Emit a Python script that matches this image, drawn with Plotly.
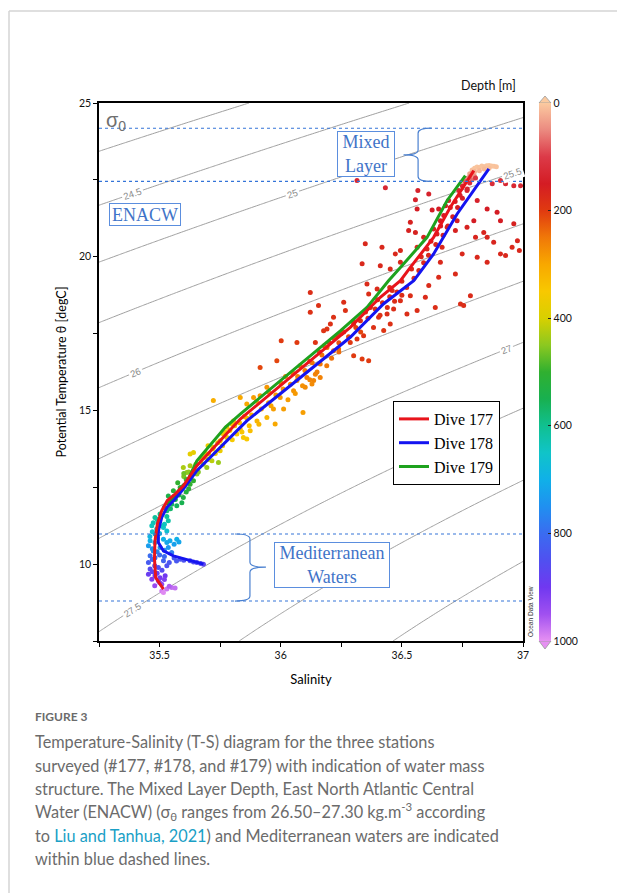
import numpy as np
import plotly.graph_objects as go

# ---------------- data ----------------
dive177_sal = [35.516, 35.484, 35.479, 35.481, 35.491, 35.509, 35.532, 35.564, 35.598, 35.654,
               35.833, 36.081, 36.287, 36.411, 36.494, 36.535, 36.631, 36.700, 36.769, 36.797]
dive177_temp = [9.19, 9.56, 10.17, 10.76, 11.31, 11.74, 12.07, 12.28, 12.55, 13.20,
                14.72, 16.36, 17.70, 18.68, 19.22, 19.65, 20.63, 21.61, 22.48, 22.80]

dive178_sal = [35.681, 35.612, 35.557, 35.516, 35.495, 35.495, 35.509, 35.530, 35.564, 35.598,
               35.654, 35.860, 36.081, 36.287, 36.425, 36.549, 36.590, 36.631, 36.728, 36.824, 36.859]
dive178_temp = [10.00, 10.16, 10.27, 10.43, 10.70, 11.08, 11.52, 11.84, 12.12, 12.44,
                13.04, 14.66, 16.07, 17.38, 18.47, 19.22, 19.65, 20.09, 21.39, 22.48, 22.86]

dive179_sal = [35.530, 35.550, 35.585, 35.612, 35.654, 35.771, 35.833, 36.081, 36.246, 36.356,
               36.445, 36.494, 36.604, 36.687, 36.762]
dive179_temp = [11.90, 12.12, 12.45, 12.66, 13.36, 14.45, 14.88, 16.52, 17.59, 18.35,
                19.22, 19.65, 20.63, 21.83, 22.64]

# CTD samples coloured by depth
surface_sal = [36.79, 36.80, 36.81, 36.82, 36.83, 36.84, 36.85, 36.86, 36.87, 36.88, 36.89,
               36.80, 36.82, 36.84, 36.86, 36.78, 36.78, 36.79, 36.77, 36.80, 36.76, 36.79]
surface_temp = [22.82, 22.88, 22.92, 22.90, 22.95, 22.93, 22.96, 22.97, 22.95, 22.94, 22.93,
                22.76, 22.80, 22.85, 22.88, 22.70, 22.60, 22.50, 22.55, 22.62, 22.45, 22.72]
surface_depth = [10, 5, 5, 8, 5, 6, 5, 4, 5, 5, 6,
                 20, 15, 12, 10, 30, 60, 70, 50, 45, 80, 40]

upper_sal = [36.315, 36.432, 36.566, 36.556, 36.611, 36.563, 36.625, 36.652, 36.680, 36.693,
             36.735, 36.769, 36.804, 36.873, 36.907, 36.928, 36.962, 36.990, 36.673, 36.659,
             36.728, 36.687, 36.721, 36.769, 36.797, 36.811, 36.852, 36.893, 36.907, 36.962,
             36.535, 36.528, 36.556, 36.590, 36.631, 36.645, 36.666, 36.563, 36.604, 36.494,
             36.473, 36.418, 36.349, 36.336, 36.411, 36.494, 36.659, 36.749, 36.811, 36.852,
             36.907, 36.955, 36.721, 36.652, 36.452, 36.852, 36.879, 36.838, 36.804, 36.928,
             36.700, 36.660, 36.620, 36.580, 36.540, 36.500, 36.460, 36.740, 36.750, 36.720,
             36.977, 36.985,
             36.122, 36.143, 36.177, 36.191, 36.205, 36.218, 36.232, 36.260, 36.267, 36.287,
             36.301, 36.315, 36.329, 36.342, 36.356, 36.363, 36.370, 36.383, 36.398, 36.404,
             36.425, 36.439, 36.452, 36.466, 36.494, 36.521, 36.535, 36.563, 36.597, 36.611,
             36.638, 36.742, 36.755, 36.783, 36.336, 36.363, 36.301, 36.122, 36.156, 36.002,
             36.067, 35.984, 35.915, 36.200, 36.250, 36.300, 36.350, 36.400, 36.450, 36.160,
             36.120,
             36.36, 36.39, 36.42, 36.45, 36.48, 36.41, 36.44, 36.47, 36.50, 36.52,
             36.55, 36.57, 36.59, 36.61, 36.64, 36.67, 36.69, 36.71, 36.73, 36.75,
             36.77, 36.78,
             36.18, 36.22, 36.26, 36.28, 36.31, 36.24, 36.33]
upper_temp = [22.48, 22.24, 22.15, 21.85, 22.04, 21.55, 21.52, 21.55, 21.66, 21.83,
              22.15, 22.15, 22.56, 22.37, 22.48, 22.37, 22.31, 22.31, 21.34, 21.17,
              21.17, 20.96, 20.85, 20.96, 21.17, 21.83, 21.55, 21.45, 21.17, 21.07,
              21.12, 20.85, 20.79, 20.63, 20.90, 20.74, 20.31, 20.31, 20.25, 20.20,
              20.09, 20.31, 20.42, 19.77, 19.71, 19.82, 19.82, 20.09, 19.98, 19.82,
              20.09, 20.31, 19.44, 19.33, 19.60, 20.63, 20.47, 20.79, 20.63, 20.04,
              21.60, 21.00, 20.50, 20.00, 19.60, 19.20, 18.90, 22.00, 22.30, 21.80,
              20.52, 20.20,
              18.19, 17.21, 17.59, 17.65, 17.81, 18.03, 17.43, 18.52, 18.25, 17.21,
              17.81, 17.32, 17.92, 17.43, 19.11, 18.79, 18.35, 17.70, 18.95, 18.03,
              17.60, 18.14, 17.81, 18.30, 18.57, 18.14, 18.73, 18.25, 18.68, 19.06,
              18.35, 18.46, 18.41, 18.73, 16.67, 16.62, 16.78, 18.84, 18.41, 17.27,
              17.21, 16.62, 16.40, 17.20, 17.50, 17.90, 18.20, 18.60, 19.00, 16.90,
              16.60,
              18.00, 18.30, 18.50, 18.70, 18.85, 18.10, 18.35, 18.55, 18.75, 19.00,
              19.30, 19.55, 19.80, 20.05, 20.40, 20.70, 21.00, 21.30, 21.60, 21.90,
              22.20, 22.40,
              17.10, 17.35, 17.55, 17.40, 17.70, 17.20, 17.55]
upper_depth = [130, 130, 140, 140, 140, 150, 150, 150, 150, 140,
               130, 130, 110, 120, 120, 130, 130, 130, 150, 150,
               150, 160, 160, 160, 150, 140, 150, 150, 150, 160,
               160, 160, 160, 160, 160, 160, 170, 170, 170, 170,
               170, 170, 170, 170, 170, 170, 170, 170, 170, 170,
               170, 170, 175, 175, 175, 165, 165, 165, 165, 170,
               150, 155, 165, 170, 175, 180, 180, 140, 130, 145,
               165, 170,
               185, 190, 190, 190, 185, 185, 190, 180, 185, 195,
               185, 190, 185, 190, 175, 180, 180, 185, 175, 185,
               190, 180, 185, 180, 180, 180, 180, 180, 175, 175,
               180, 180, 180, 175, 200, 200, 200, 180, 185, 200,
               200, 210, 210, 200, 195, 190, 185, 180, 180, 205,
               210,
               190, 185, 182, 180, 178, 186, 183, 180, 178, 176,
               174, 172, 170, 168, 165, 160, 158, 155, 150, 145,
               135, 120,
               220, 215, 210, 215, 205, 220, 210]

central_sal = [36.218, 36.239, 36.191, 36.163, 36.143, 36.108, 36.136, 36.163, 36.101, 36.129,
               36.092, 35.888, 35.915, 35.998, 35.970, 36.012, 36.053, 36.067, 35.977, 35.860,
               35.833, 35.943, 35.722, 36.050, 36.000, 35.950, 35.900, 36.080, 36.020,
               35.92, 35.95, 35.98, 36.01, 36.04, 36.07, 36.10, 36.13, 36.17, 35.96,
               36.03, 36.06, 36.09, 36.12, 36.15, 36.19, 36.21, 36.24,
               35.778, 35.805, 35.819, 35.846, 35.860, 35.833, 35.778, 35.750, 35.722, 35.702,
               35.640, 35.626, 35.681, 35.750, 35.902, 35.943, 35.874, 35.800, 35.760, 35.700,
               35.850,
               35.74, 35.77, 35.79, 35.81, 35.83, 35.86, 35.88, 35.72, 35.69, 35.67,
               35.73, 35.76, 35.80, 35.84, 35.87, 35.91,
               35.598, 35.612, 35.626, 35.654, 35.695, 35.716, 35.743, 35.640, 35.600,
               35.63, 35.66, 35.68, 35.70, 35.62, 35.65, 35.60,
               35.536, 35.557, 35.585, 35.598, 35.550, 35.571, 35.592, 35.530, 35.626, 35.640,
               35.502, 35.560, 35.610, 35.575,
               35.52, 35.54, 35.58, 35.60, 35.62, 35.545, 35.565, 35.61]
central_temp = [16.94, 17.00, 17.05, 16.51, 16.18, 16.07, 15.97, 16.07, 15.75, 15.86,
                14.93, 15.42, 15.48, 15.42, 15.05, 15.05, 15.64, 15.97, 14.56, 15.21,
                15.42, 15.75, 15.32, 16.20, 15.90, 15.60, 15.30, 16.45, 16.10,
                15.05, 15.25, 15.50, 15.70, 15.85, 16.10, 16.30, 16.55, 16.80, 15.15,
                15.35, 15.55, 15.80, 16.00, 16.25, 16.45, 16.70, 16.90,
                14.45, 14.66, 14.23, 14.12, 14.07, 14.39, 14.12, 14.01, 13.80, 13.58,
                13.63, 13.58, 13.47, 13.69, 14.66, 14.77, 14.34, 14.55, 14.25, 13.85,
                14.80,
                13.95, 14.30, 14.35, 14.50, 14.60, 14.75, 14.85, 13.75, 13.60, 13.40,
                13.60, 13.85, 14.05, 14.30, 14.50, 14.55,
                13.14, 12.98, 13.20, 12.93, 13.14, 13.36, 13.31, 13.05, 12.85,
                12.85, 13.00, 13.25, 13.40, 13.00, 13.25, 12.95,
                12.22, 12.39, 12.49, 12.17, 11.95, 11.90, 12.00, 11.74, 12.60, 12.71,
                11.63, 12.20, 12.35, 12.65,
                11.85, 12.05, 12.25, 12.55, 12.45, 11.80, 12.10, 12.75]
central_depth = [240, 240, 240, 250, 260, 260, 265, 260, 270, 270,
                 290, 290, 285, 285, 290, 290, 280, 270, 300, 300,
                 300, 280, 310, 255, 270, 280, 290, 250, 260,
                 300, 295, 285, 280, 275, 265, 255, 250, 245, 295,
                 290, 285, 275, 265, 258, 252, 245, 240,
                 340, 330, 350, 350, 350, 340, 360, 360, 370, 380,
                 380, 380, 390, 370, 320, 320, 335, 340, 355, 370,
                 320,
                 365, 350, 345, 340, 335, 325, 320, 370, 380, 390,
                 375, 365, 355, 345, 335, 325,
                 430, 440, 430, 450, 440, 420, 440, 440, 460,
                 470, 455, 430, 415, 450, 430, 465,
                 540, 520, 510, 530, 560, 560, 550, 580, 500, 500,
                 590, 530, 520, 500,
                 575, 550, 530, 505, 515, 570, 545, 490]

deep_sal = [35.481, 35.474, 35.495, 35.468, 35.488, 35.481, 35.530, 35.516, 35.536,
            35.49, 35.50, 35.47, 35.50, 35.52, 35.53,
            35.461, 35.481, 35.516, 35.543, 35.571, 35.454, 35.474, 35.502, 35.536,
            35.46, 35.49, 35.53, 35.56, 35.58, 35.47, 35.49, 35.52, 35.55,
            35.461, 35.481, 35.516, 35.454, 35.495, 35.530, 35.461, 35.585, 35.626, 35.654,
            35.681, 35.600, 35.560, 35.670,
            35.47, 35.50, 35.52, 35.48, 35.51, 35.47, 35.54, 35.57, 35.64,
            35.454, 35.481, 35.502, 35.468, 35.495, 35.509, 35.523, 35.49, 35.50, 35.48, 35.52,
            35.509, 35.530, 35.550, 35.564, 35.516, 35.54]
deep_temp = [11.52, 11.35, 11.35, 11.25, 11.14, 10.98, 11.08, 11.19, 11.41,
             11.45, 11.25, 11.05, 11.00, 11.30, 11.55,
             10.76, 10.70, 10.81, 10.76, 10.81, 10.60, 10.43, 10.54, 10.54,
             10.90, 10.85, 10.70, 10.65, 10.72, 10.50, 10.40, 10.45, 10.38,
             10.27, 10.21, 10.11, 10.05, 9.89, 9.95, 9.84, 10.16, 10.11, 10.05,
             10.00, 10.13, 10.20, 10.02,
             10.15, 10.30, 10.25, 9.95, 9.80, 9.75, 10.05, 10.10, 10.07,
             9.67, 9.62, 9.56, 9.51, 9.46, 9.35, 9.62, 9.70, 9.40, 9.30, 9.50,
             9.13, 9.19, 9.24, 9.22, 9.08, 9.28]
deep_depth = [610, 630, 630, 640, 650, 670, 660, 650, 620,
              620, 640, 660, 670, 640, 610,
              700, 710, 700, 710, 700, 730, 760, 740, 740,
              690, 695, 715, 725, 715, 750, 765, 760, 775,
              800, 810, 820, 830, 850, 850, 860, 840, 850, 860,
              870, 845, 830, 865,
              815, 800, 805, 845, 860, 870, 840, 835, 855,
              890, 900, 905, 915, 920, 935, 900, 885, 925, 940, 915,
              985, 980, 975, 975, 995, 960]

# water-mass boundaries (potential temperature, degC)
mixed_layer_bounds = [24.18, 22.45]
mediterranean_bounds = [10.98, 8.80]

# density (sigma-0) contour labels: level and salinity where the label sits
contour_label_levels = [24.5, 25.0, 26.0, 27.0, 27.5, 25.5]
contour_label_sal = [35.39, 36.05, 35.40, 36.93, 35.39, 36.955]

x_ticks = [35.5, 36.0, 36.5, 37.0]
x_ticktext = ["35.5", "36", "36.5", "37"]
x_minor_ticks = [35.25, 35.75, 36.25, 36.75]
y_ticks = [10, 15, 20, 25]
y_ticktext = ["10", "15", "20", "25"]
y_minor_ticks = [7.5, 12.5, 17.5, 22.5]
depth_ticks = [0, 200, 400, 600, 800, 1000]

# ---------------- helpers ----------------
W, H = 617, 893
ML, MR, MT, MB = 99, 94, 103, 252
PW, PH = W - ML - MR, H - MT - MB
XR = [35.25, 37.0]
YR = [7.5, 25.0]


def px_x(px):
    return (px - ML) / PW


def px_y(py):
    return (H - MB - py) / PH


def sigma0(S, T):
    rho_w = (999.842594 + 6.793952e-2 * T - 9.095290e-3 * T ** 2 + 1.001685e-4 * T ** 3
             - 1.120083e-6 * T ** 4 + 6.536332e-9 * T ** 5)
    A = 8.24493e-1 - 4.0899e-3 * T + 7.6438e-5 * T ** 2 - 8.2467e-7 * T ** 3 + 5.3875e-9 * T ** 4
    B = -5.72466e-3 + 1.0227e-4 * T - 1.6546e-6 * T ** 2
    C = 4.8314e-4
    return rho_w + A * S + B * S ** 1.5 + C * S ** 2 - 1000.0


def iso_temp(level, s):
    lo, hi = 0.0, 35.0
    for _ in range(60):
        mid = 0.5 * (lo + hi)
        if sigma0(s, mid) > level:
            lo = mid
        else:
            hi = mid
    return 0.5 * (lo + hi)


# ---------------- figure ----------------
fig = go.Figure()

s_grid = np.linspace(XR[0], XR[1], 176)
t_grid = np.linspace(YR[0], YR[1], 176)
SS, TT = np.meshgrid(s_grid, t_grid)
ZZ = sigma0(SS, TT)

fig.add_trace(go.Contour(
    x=s_grid, y=t_grid, z=ZZ,
    contours=dict(start=23.5, end=28.5, size=0.5, coloring="none", showlabels=False),
    line=dict(color="#a0a0a0", width=1),
    showscale=False, hoverinfo="skip", showlegend=False,
))

pts_sal = surface_sal + upper_sal + central_sal + deep_sal
pts_temp = surface_temp + upper_temp + central_temp + deep_temp
pts_depth = surface_depth + upper_depth + central_depth + deep_depth

depth_colorscale = [
    [0.00, "#e690f2"], [0.05, "#a050f0"], [0.10, "#7038f0"], [0.15, "#5050f0"],
    [0.20, "#3a6cf0"], [0.25, "#2090f0"], [0.30, "#10b0e8"], [0.35, "#10c4c8"],
    [0.40, "#10c090"], [0.45, "#18b050"], [0.50, "#30b030"], [0.55, "#8cc820"],
    [0.60, "#d8d000"], [0.65, "#f8c800"], [0.70, "#f8a800"], [0.75, "#f07808"],
    [0.80, "#e03a10"], [0.85, "#d41c24"], [0.90, "#dc3a48"], [0.95, "#eb8a80"],
    [1.00, "#fbcaa0"],
]

cb_x0 = px_x(539)
cb_w = 12 / PW
fig.add_trace(go.Scatter(
    x=pts_sal, y=pts_temp, mode="markers",
    marker=dict(size=5, color=[-d for d in pts_depth], cmin=-1000, cmax=0,
                colorscale=depth_colorscale, line=dict(width=0),
                colorbar=dict(
                    x=cb_x0, xanchor="left", xpad=0, y=0.5, yanchor="middle",
                    len=1, lenmode="fraction", ypad=0, thickness=12,
                    outlinewidth=0,
                    tickvals=[-d for d in depth_ticks],
                    ticktext=[str(d) for d in depth_ticks],
                    ticks="inside", ticklen=3, tickcolor="#222",
                    tickfont=dict(family="Lato", size=10.5, color="#111"),
                )),
    showlegend=False, hoverinfo="skip",
))

fig.add_trace(go.Scatter(x=dive179_sal, y=dive179_temp, mode="lines", name="Dive 179",
                         line=dict(color="#1ea21e", width=3), legendrank=3))
fig.add_trace(go.Scatter(x=dive178_sal, y=dive178_temp, mode="lines", name="Dive 178",
                         line=dict(color="#1414f0", width=3), legendrank=2))
fig.add_trace(go.Scatter(x=dive177_sal, y=dive177_temp, mode="lines", name="Dive 177",
                         line=dict(color="#e8141b", width=3), legendrank=1))

shapes = []
for t in mixed_layer_bounds + mediterranean_bounds:
    shapes.append(dict(type="line", xref="paper", yref="y", x0=0, x1=1, y0=t, y1=t,
                       line=dict(color="#3474d8", width=1.1, dash="dot")))


def brace(spine, tip, point, top, mid, bot, r):
    return (f"M {tip},{top} Q {spine},{top} {spine},{top - r} "
            f"L {spine},{mid + r} Q {spine},{mid} {point},{mid} "
            f"Q {spine},{mid} {spine},{mid - r} "
            f"L {spine},{bot + r} Q {spine},{bot} {tip},{bot}")


shapes.append(dict(type="path", xref="x", yref="y",
                   path=brace(36.567, 36.623, 36.507, mixed_layer_bounds[0], 23.31,
                              mixed_layer_bounds[1], 0.16),
                   line=dict(color="#4a80d0", width=1.2)))
shapes.append(dict(type="path", xref="x", yref="y",
                   path=brace(35.873, 35.811, 35.939, mediterranean_bounds[0], 9.90,
                              mediterranean_bounds[1], 0.16),
                   line=dict(color="#4a80d0", width=1.2)))

# colorbar end triangles
shapes.append(dict(type="path", xref="paper", yref="paper",
                   path=f"M {cb_x0},1 L {cb_x0 + cb_w / 2},{1 + 7 / PH} L {cb_x0 + cb_w},1 Z",
                   fillcolor="#fbcaa0", line=dict(color="#999", width=0.8)))
shapes.append(dict(type="path", xref="paper", yref="paper",
                   path=f"M {cb_x0},0 L {cb_x0 + cb_w / 2},{-8 / PH} L {cb_x0 + cb_w},0 Z",
                   fillcolor="#e690f2", line=dict(color="#999", width=0.8)))

# page frame
shapes.append(dict(type="line", xref="paper", yref="paper", x0=px_x(9), x1=px_x(640),
                   y0=px_y(11), y1=px_y(11), line=dict(color="#d4d4d4", width=1.5)))
shapes.append(dict(type="line", xref="paper", yref="paper", x0=px_x(9), x1=px_x(9),
                   y0=px_y(11), y1=px_y(900), line=dict(color="#d4d4d4", width=1.5)))

annotations = []

# contour labels
k = (PH / (YR[1] - YR[0])) / (PW / (XR[1] - XR[0]))
for lev, s in zip(contour_label_levels, contour_label_sal):
    t = iso_temp(lev, s)
    ds = 1e-3
    dsdS = (sigma0(s + ds, t) - sigma0(s - ds, t)) / (2 * ds)
    dsdT = (sigma0(s, t + ds) - sigma0(s, t - ds)) / (2 * ds)
    slope = -dsdS / dsdT * k
    ang = np.degrees(np.arctan(slope))
    annotations.append(dict(x=s, y=t, xref="x", yref="y", text=f"{lev:g}", showarrow=False,
                            xanchor="center", yanchor="middle",
                            textangle=-ang, bgcolor="white", borderpad=1,
                            font=dict(family="Liberation Sans", size=9.5, color="#8a8a8a")))

box_font = dict(family="Liberation Serif", size=18, color="#3f74c8")
annotations.append(dict(x=36.352, y=23.33, xref="x", yref="y", text="Mixed<br>Layer",
                        showarrow=False, font=box_font, bgcolor="white",
                        xanchor="center", yanchor="middle",
                        bordercolor="#5b8ede", borderwidth=1, borderpad=0, width=56, height=44))
annotations.append(dict(x=35.440, y=21.374, xref="x", yref="y", text="ENACW",
                        showarrow=False, font=box_font, bgcolor="white",
                        xanchor="center", yanchor="middle",
                        bordercolor="#5b8ede", borderwidth=1, borderpad=0, width=70, height=21))
annotations.append(dict(x=36.213, y=9.976, xref="x", yref="y", text="Mediterranean<br>Waters",
                        showarrow=False, font=box_font, bgcolor="white",
                        xanchor="center", yanchor="middle",
                        bordercolor="#5b8ede", borderwidth=1, borderpad=0, width=114, height=44))

annotations.append(dict(x=px_x(104), y=px_y(121), xref="paper", yref="paper",
                        text="σ<sub>0</sub>", showarrow=False, xanchor="left", yanchor="middle",
                        font=dict(family="Liberation Sans", size=20, color="#6f6f6f")))
annotations.append(dict(x=px_x(488), y=px_y(85), xref="paper", yref="paper",
                        text="Depth [m]", showarrow=False, xanchor="center", yanchor="middle",
                        font=dict(family="Lato", size=12.5, color="#111")))
annotations.append(dict(x=px_x(530), y=px_y(612), xref="paper", yref="paper",
                        text="Ocean Data View", showarrow=False, textangle=-90,
                        xanchor="center", yanchor="middle",
                        font=dict(family="Liberation Sans", size=6.5, color="#333")))

# caption
cap_color = "#6b6b6b"
annotations.append(dict(x=px_x(33), y=px_y(716), xref="paper", yref="paper",
                        text="<b>FIGURE 3</b>", showarrow=False, xanchor="left", yanchor="middle",
                        font=dict(family="Lato", size=12, color=cap_color)))
caption_lines = [
    "Temperature-Salinity (T-S) diagram for the three stations",
    "surveyed (#177, #178, and #179) with indication of water mass",
    "structure. The Mixed Layer Depth, East North Atlantic Central",
    "Water (ENACW) (σ<sub>θ</sub> ranges from 26.50–27.30 kg.m<sup>-3</sup> according",
    "to <span style='color:#1aa0c6'>Liu and Tanhua, 2021</span>) and Mediterranean waters are indicated",
    "within blue dashed lines.",
]
for i, line in enumerate(caption_lines):
    annotations.append(dict(x=px_x(33), y=px_y(742 + 23.3 * i), xref="paper", yref="paper",
                            text=line, showarrow=False, xanchor="left", yanchor="middle",
                            font=dict(family="Lato", size=16.3, color=cap_color)))

axis_common = dict(showline=True, linecolor="black", linewidth=1.5, mirror=True,
                   showgrid=False, zeroline=False, ticks="outside", ticklen=4,
                   tickwidth=1, tickcolor="black",
                   tickfont=dict(family="Lato", size=10.5, color="#111"))

fig.update_layout(
    width=W, height=H,
    margin=dict(l=ML, r=MR, t=MT, b=MB, pad=0),
    paper_bgcolor="white", plot_bgcolor="white",
    xaxis=dict(range=XR, tickmode="array", tickvals=x_ticks, ticktext=x_ticktext,
               minor=dict(tickmode="array", tickvals=x_minor_ticks, ticks="outside",
                          ticklen=4, tickwidth=1, tickcolor="black", showgrid=False),
               title=dict(text="Salinity", standoff=15,
                          font=dict(family="Lato", size=13, color="black")),
               **axis_common),
    yaxis=dict(range=YR, tickmode="array", tickvals=y_ticks, ticktext=y_ticktext,
               minor=dict(tickmode="array", tickvals=y_minor_ticks, ticks="outside",
                          ticklen=4, tickwidth=1, tickcolor="black", showgrid=False),
               title=dict(text="Potential Temperature θ [degC]", standoff=10,
                          font=dict(family="Lato", size=12.5, color="black")),
               **axis_common),
    legend=dict(x=px_x(446.5), xanchor="center", y=px_y(443), yanchor="middle",
                bgcolor="white", bordercolor="black", borderwidth=1,
                font=dict(family="Liberation Serif", size=16, color="black"),
                tracegroupgap=0),
    shapes=shapes,
    annotations=annotations,
    showlegend=True,
)

fig.write_html("out.html", config={"displayModeBar": False},
               post_script="document.body.style.margin='0';document.body.style.overflow='hidden';")
